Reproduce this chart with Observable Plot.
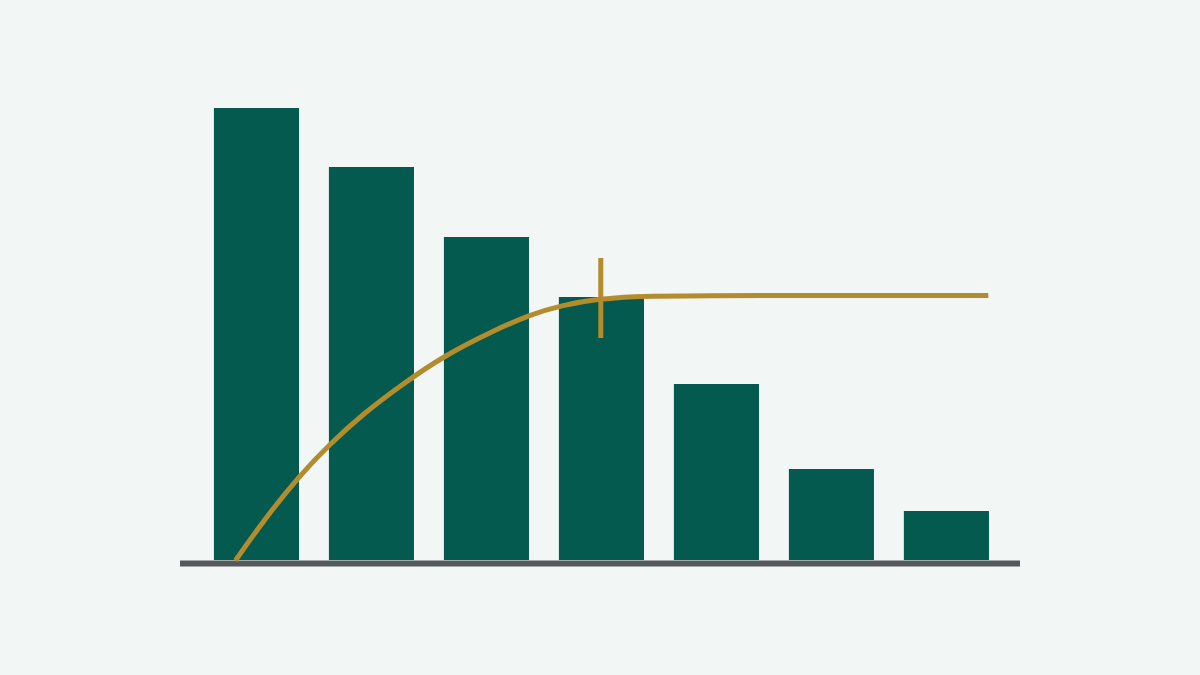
<!DOCTYPE html>
<html>
<head>
<meta charset="utf-8">
<script src="https://cdn.jsdelivr.net/npm/d3@7"></script>
<script src="https://cdn.jsdelivr.net/npm/@observablehq/plot@0.6"></script>
<style>
  html, body { margin: 0; padding: 0; background: #f2f7f5; }
  #chart { width: 1200px; height: 675px; }
</style>
</head>
<body>
<div id="chart"></div>
<script>
// Bar values (index position along x, height in chart units)
const barIndex = [0, 1, 2, 3, 4, 5, 6];
const barValues = [452, 393, 323, 263, 176, 91, 49];

// Cumulative curve (x in bar-index units, y in chart units)
const curveX = [-0.187, 0.057, 0.37, 0.63, 0.926, 1.248, 1.63, 2.04, 2.378, 2.639, 2.987, 3.3, 3.509, 6.36];
const curveY = [0, 40, 85, 116, 147, 175, 205, 229, 246, 255, 262, 264, 265, 265];

// Marker tick on the curve
const markerX = [2.99];
const markerLow = [222];
const markerHigh = [302];

const barHalf = 0.37;
const bars = barIndex.map((i, k) => ({i, v: barValues[k]}));
const curve = curveX.map((x, k) => ({x, y: curveY[k]}));
const marker = markerX.map((x, k) => ({x, y1: markerLow[k], y2: markerHigh[k]}));

const chart = Plot.plot({
  width: 1200,
  height: 675,
  marginLeft: 180,
  marginRight: 180,
  marginTop: 80,
  marginBottom: 115,
  style: {background: "#f2f7f5"},
  x: {domain: [-0.665, 6.64], axis: null},
  y: {domain: [0, 480], axis: null},
  marks: [
    Plot.rectY(bars, {x1: d => d.i - barHalf, x2: d => d.i + barHalf, y1: 0, y2: "v", fill: "#045a4e"}),
    Plot.ruleY([0], {stroke: "#55595b", strokeWidth: 6, dy: 3}),
    Plot.line(curve, {x: "x", y: "y", stroke: "#b38c2d", strokeWidth: 5, curve: "basis", strokeLinecap: "butt"}),
    Plot.ruleX(marker, {x: "x", y1: "y1", y2: "y2", stroke: "#b38c2d", strokeWidth: 5})
  ]
});
document.getElementById("chart").appendChild(chart);
</script>
</body>
</html>
